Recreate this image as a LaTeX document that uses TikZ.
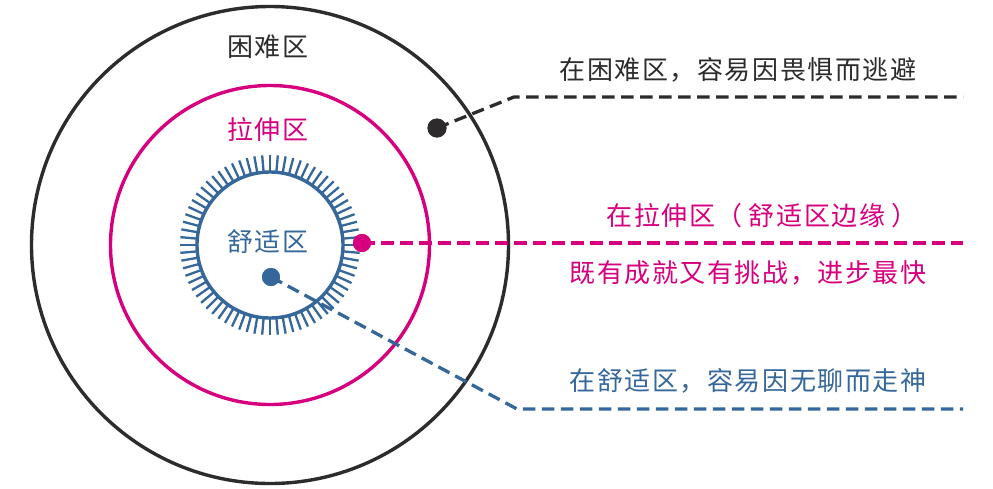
\documentclass[tikz,border=0pt]{standalone}
\usepackage{fontspec}
\usetikzlibrary{calc}
\setmainfont{Noto Sans CJK SC}[LetterSpace=6]
\begin{document}
\begin{tikzpicture}[x=1pt,y=-1pt,
  lbl/.style={font=\fontsize{26}{30}\selectfont, inner sep=0pt},
  dotn/.style={circle, fill, inner sep=0pt, minimum size=19pt},
  dsh/.style={line width=3.3pt, dash pattern=on 12.5pt off 6.5pt},
  ring/.style={line width=3.4pt}]
\definecolor{cblack}{HTML}{2D2B2C}
\definecolor{cpink}{HTML}{D6007F}
\definecolor{cblue}{HTML}{36679A}
\useasboundingbox (0,0) rectangle (993,488);
\coordinate (c) at (270,245);
% circles
\draw[ring, cblack] (c) circle[radius=238.5];
\draw[ring, cpink] (c) circle[radius=159.5];
\draw[ring, cblue] (c) circle[radius=73];
\foreach \a in {0,5,...,355}
  \draw[cblue, line width=2.3pt] ($(c)+(\a:74)$) -- ($(c)+(\a:90)$);
% labels in circles
\node[lbl, text=cblack] (hard) at (268,47) {困难区};
\node[lbl, text=cpink] (stretch) at (268,130) {拉伸区};
\node[lbl, text=cblue] (comfort) at (268,242) {舒适区};
% dots
\node[dotn, fill=cblack] (d1) at (437,128) {};
\node[dotn, fill=cpink, minimum size=18pt] (d2) at (362,243) {};
\node[dotn, fill=cblue, minimum size=18pt] (d3) at (271,277) {};
% leader corners
\coordinate (k1) at (514,97);
\coordinate (e1) at (963,97);
\coordinate (e2) at (963,243);
\coordinate (k3) at (517,409);
\coordinate (e3) at (963,409);
\draw[dsh, cblack] (d1.center) -- (k1) -- (e1);
\draw[dsh, cpink] (d2.center) -- (e2);
\draw[dsh, cblue] (d3.center) -- (k3) -- (e3);
\fill[cblack] (d1) circle[radius=9.5];
\fill[cpink] (d2) circle[radius=9];
\fill[cblue] (d3) circle[radius=9];
% right texts
\node[lbl, text=cblack] (t1) at (738,70) {在困难区，容易因畏惧而逃避};
\node[lbl, text=cpink] (t2) at (762,216) {在拉伸区（\hspace{6pt}舒适区边缘\hspace{6pt}）};
\node[lbl, text=cpink] (t3) at (748,273) {既有成就又有挑战，进步最快};
\node[lbl, text=cblue] (t4) at (748,381) {在舒适区，容易因无聊而走神};
\end{tikzpicture}
\end{document}
